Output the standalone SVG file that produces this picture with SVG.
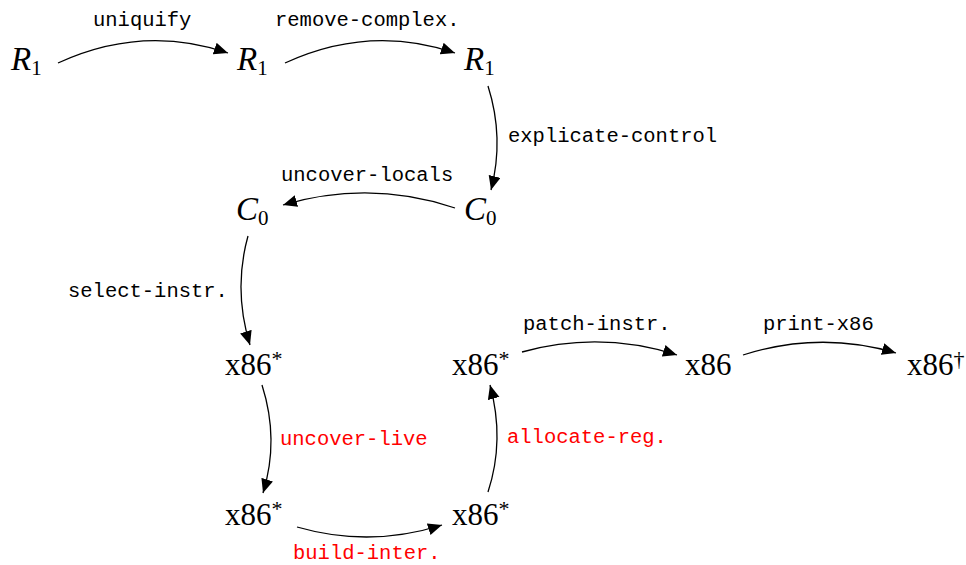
<svg xmlns="http://www.w3.org/2000/svg" width="966" height="565" viewBox="0 0 966 565">
<style>
.n{font-family:"Liberation Serif","DejaVu Serif",serif;font-size:31px;fill:#000}
.i{font-style:italic;font-size:33px}
.sub{font-size:21px}
.sup{font-size:22px}
.l{font-family:"Liberation Mono","DejaVu Sans Mono",monospace;font-size:20.5px;fill:#000}
.r{fill:#ff0000}
.e{fill:none;stroke:#000;stroke-width:1.3;marker-end:url(#ah)}
</style>
<defs>
<marker id="ah" markerUnits="userSpaceOnUse" markerWidth="15" markerHeight="13" refX="14" refY="6" orient="auto" viewBox="0 0 15 13">
<path d="M0,0 L14,6 L0,12 z" fill="#000"/>
</marker>
</defs>
<rect width="966" height="565" fill="#fff"/>
<g id="n1"><text class="n" x="11" y="70"><tspan class="i">R</tspan><tspan class="sub" dy="5">1</tspan></text></g>
<g id="n2"><text class="n" x="237" y="70"><tspan class="i">R</tspan><tspan class="sub" dy="5">1</tspan></text></g>
<g id="n3"><text class="n" x="464" y="70"><tspan class="i">R</tspan><tspan class="sub" dy="5">1</tspan></text></g>
<g id="n4"><text class="n" x="464" y="220"><tspan class="i">C</tspan><tspan class="sub" dy="5">0</tspan></text></g>
<g id="n5"><text class="n" x="236" y="220"><tspan class="i">C</tspan><tspan class="sub" dy="5">0</tspan></text></g>
<g id="n6"><text class="n" x="225" y="375">x86<tspan class="sup" dy="-9">*</tspan></text></g>
<g id="n7"><text class="n" x="225" y="525">x86<tspan class="sup" dy="-9">*</tspan></text></g>
<g id="n8"><text class="n" x="452" y="525">x86<tspan class="sup" dy="-9">*</tspan></text></g>
<g id="n9"><text class="n" x="452" y="375">x86<tspan class="sup" dy="-9">*</tspan></text></g>
<g id="n10"><text class="n" x="685" y="375">x86</text></g>
<g id="n11"><text class="n" x="907" y="375">x86<tspan class="sup" dy="-9">†</tspan></text></g>
<g id="edges">
<path class="e" d="M58,63 Q143,24 228,53"/>
<path class="e" d="M285,63 Q370,24 455,53"/>
<path class="e" d="M488,86 Q504.5,138 491,190"/>
<path class="e" d="M455,208 Q370,179.5 283,205"/>
<path class="e" d="M248,236 Q233,290 250,345"/>
<path class="e" d="M262,385 Q279.5,440 263,493"/>
<path class="e" d="M297,527 Q370,548 442,525"/>
<path class="e" d="M488,492 Q505,440 490,385"/>
<path class="e" d="M522,352 Q600,330.5 677,355"/>
<path class="e" d="M743,355 Q820,330.5 896,353"/>
</g>
<g id="labels">
<text class="l" x="93" y="26">uniquify</text>
<text class="l" x="275" y="26">remove-complex.</text>
<text class="l" x="508" y="142">explicate-control</text>
<text class="l" x="281" y="181">uncover-locals</text>
<text class="l" x="68" y="297">select-instr.</text>
<text class="l" x="523" y="330">patch-instr.</text>
<text class="l" x="763" y="330">print-x86</text>
<text class="l r" x="280" y="445">uncover-live</text>
<text class="l r" x="507" y="443">allocate-reg.</text>
<text class="l r" x="293" y="559">build-inter.</text>
</g>
</svg>
